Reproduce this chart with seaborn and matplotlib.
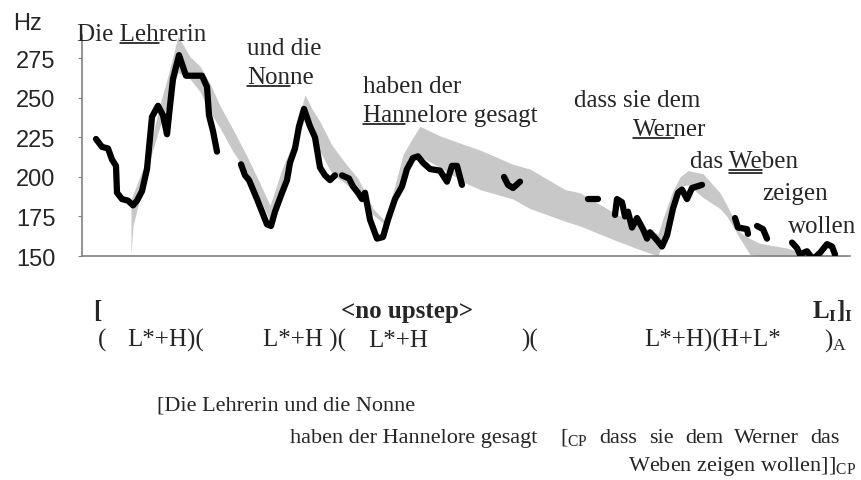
import numpy as np
import pandas as pd
import seaborn as sns
import matplotlib.pyplot as plt
from matplotlib.lines import Line2D
plt.switch_backend('agg')

# f0 contour (time in frames, Hz), split into voiced stretches
seg_t = [
    [14, 20, 26, 30, 34, 35, 40, 46, 51, 55, 60, 65, 70, 76, 81, 85, 88, 91, 97, 104, 120, 125, 127, 131, 135],
    [159, 163, 167, 175, 180, 185, 189, 193, 200, 205, 208, 213, 217, 222, 228, 233, 238, 243, 248, 253],
    [260, 267, 271, 276, 280, 283, 288, 295, 301, 306, 313, 320, 325, 331, 336, 341, 348, 358, 365, 370, 375, 380],
    [422, 426, 431, 438],
    [506, 516],
    [533, 535, 540, 543, 546, 550, 555, 561, 565, 568, 575, 580, 585, 591, 596, 600, 605, 610, 620],
    [653, 656, 665, 666],
    [675, 681, 685],
    [710, 715, 718, 725, 731, 738, 745, 750, 753],
]
seg_f0 = [
    [224, 219, 218, 211, 207, 190, 186, 185, 182, 185, 191, 205, 238, 245, 239, 227, 245, 262, 277, 264, 264, 257, 239, 229, 216],
    [208, 201, 198, 186, 178, 170, 169, 178, 190, 198, 209, 218, 232, 243, 232, 225, 206, 201, 198, 201],
    [201, 199, 194, 190, 186, 190, 173, 161, 162, 173, 186, 194, 205, 212, 213, 209, 205, 204, 197, 207, 207, 195],
    [200, 195, 193, 197],
    [186, 186],
    [176, 186, 184, 175, 178, 168, 174, 167, 161, 165, 160, 156, 163, 180, 190, 192, 186, 193, 195],
    [174, 168, 167, 164],
    [169, 167, 161],
    [158.5, 155, 151, 153, 148, 152, 157.5, 156, 151],
]

# grey band (predicted range)
band_t = [49, 51, 65, 78, 86, 96, 108, 118, 128, 138, 151, 165, 178, 188, 200, 210, 215, 223, 230, 238,
          250, 263, 276, 291, 303, 313, 321, 330, 338, 358, 384, 398, 431, 448, 483, 498, 533, 558, 576,
          580, 590, 598, 606, 621, 638, 645, 658, 668, 678, 705, 721, 768]
band_lo = [150, 169, 205, 232, 247, 266, 262, 254, 241, 231, 216, 203, 186, 172, 196, 212, 223, 237, 228, 216,
           202, 196, 189, 176, 170, 183, 200, 211, 213, 206, 196, 192, 186, 180, 172, 169, 160, 154, 150,
           158, 180, 194, 195, 187, 180, 175, 161, 151, 150, 150, 150, 150]
band_hi = [186, 189, 212, 246, 264, 289, 276, 270, 259, 245, 230, 213, 196, 182, 205, 220, 234, 252, 243, 235,
           220, 209, 199, 180, 172, 195, 214, 224, 232, 226, 220, 217, 208, 205, 192, 190, 177, 169, 164,
           172, 190, 200, 204, 202, 190, 182, 165, 161, 158, 155, 152, 150]

yticks = [150, 175, 200, 225, 250, 275]

rows = []
for i, (ts, fs) in enumerate(zip(seg_t, seg_f0)):
    for t, f in zip(ts, fs):
        rows.append({'seg': i, 't': t, 'f0': f})
df = pd.DataFrame(rows)

sns.set_style('white')
plt.rcParams['mathtext.fontset'] = 'custom'
plt.rcParams['mathtext.rm'] = 'Liberation Serif'
plt.rcParams['mathtext.bf'] = 'Liberation Serif:bold'
plt.rcParams['mathtext.it'] = 'Liberation Serif:italic'

W, H = 862, 481
fig = plt.figure(figsize=(W / 100, H / 100), dpi=100)
ax = fig.add_axes([82 / W, 1 - 257 / H, (850 - 82) / W, (257 - 35.6) / H])

ax.fill_between(band_t, band_lo, band_hi, color='#c8c8c8', lw=0, zorder=1)
sns.lineplot(data=df, x='t', y='f0', units='seg', estimator=None, color='black', lw=4.5,
             ax=ax, zorder=3, sort=False)

ax.set_xlim(0, 768)
ax.set_ylim(150, 290)
ax.set_yticks(yticks)
ax.set_xticks([])
ax.set_xlabel('')
ax.set_ylabel('')
for s in ['top', 'right']:
    ax.spines[s].set_visible(False)
for s in ['left', 'bottom']:
    ax.spines[s].set_color('#808080')
    ax.spines[s].set_linewidth(1.2)
ax.tick_params(axis='y', direction='out', length=3, color='#808080', pad=16, left=True)
for lab in ax.get_yticklabels():
    lab.set_fontfamily('Liberation Sans')
    lab.set_fontsize(17)
fig.text(13 / W, 1 - 30 / H, 'Hz', family='Liberation Sans', fontsize=17, ha='left', va='baseline')

serif = 'Liberation Serif'
renderer = fig.canvas.get_renderer()


def put(x, y, s, size=18, weight='normal', ha='left'):
    return fig.text(x / W, 1 - y / H, s, family=serif, fontsize=size, fontweight=weight,
                    ha=ha, va='baseline')


def width_of(s, size):
    tmp = put(0, 0, s, size)
    bb = tmp.get_window_extent(renderer)
    tmp.remove()
    return bb.width


def underline(x, y, s, a, b, size=18, double=False):
    put(x, y, s, size)
    # pixel widths of the leading parts, measured with spaces kept
    x0 = x + (width_of('|' + s[:a] + '|', size) - width_of('||', size)) if a else x
    x1 = x + (width_of('|' + s[:b] + '|', size) - width_of('||', size))
    offs = [3, 6] if double else [3]
    for o in offs:
        fig.add_artist(Line2D([x0 / W, x1 / W], [(H - y - o) / H, (H - y - o) / H],
                              transform=fig.transFigure, color='black', lw=1.1))


def justify(x0, x1, y, words, size=16):
    ws = [width_of(w, size) for w in words]
    gap = (x1 - x0 - sum(ws)) / (len(words) - 1)
    x = x0
    for w, wd in zip(words, ws):
        put(x, y, w, size)
        x += wd + gap


# words above the contour
underline(77, 41, 'Die Lehrerin', 4, 7)
put(247, 55, 'und die')
underline(247, 84, 'Nonne', 0, 3)
put(363, 93, 'haben der')
underline(363, 122, 'Hannelore gesagt', 0, 3)
put(574, 107, 'dass sie dem')
underline(633, 136, 'Werner', 0, 3)
underline(690, 168, 'das Weben', 4, 6, double=True)
put(762, 200, 'zeigen')
put(788, 233, 'wollen')

# tonal transcription
put(93, 318, '[', weight='bold')
put(341, 318, '<no upstep>', weight='bold')
put(812, 318, r'L$_{\mathbf{I}}$]$_{\mathbf{I}}$', weight='bold')
put(98, 347, '(')
put(127, 347, 'L*+H)(')
put(263, 347, 'L*+H )(')
put(368, 347, 'L*+H')
put(521, 347, ')(')
put(644, 347, 'L*+H)(H+L*')
put(824, 347, r')$_{\mathrm{A}}$')

# syntactic bracketing
put(157, 411, '[Die Lehrerin und die Nonne', size=16)
put(290, 443, 'haben der Hannelore gesagt', size=16)
justify(560, 840, 443, [r'[$_{\mathrm{CP}}$', 'dass', 'sie', 'dem', 'Werner', 'das'])
put(856, 471, r'Weben zeigen wollen]]$_{\mathrm{CP}}$', size=16, ha='right')

plt.savefig('out.png', dpi=100)
plt.close()
